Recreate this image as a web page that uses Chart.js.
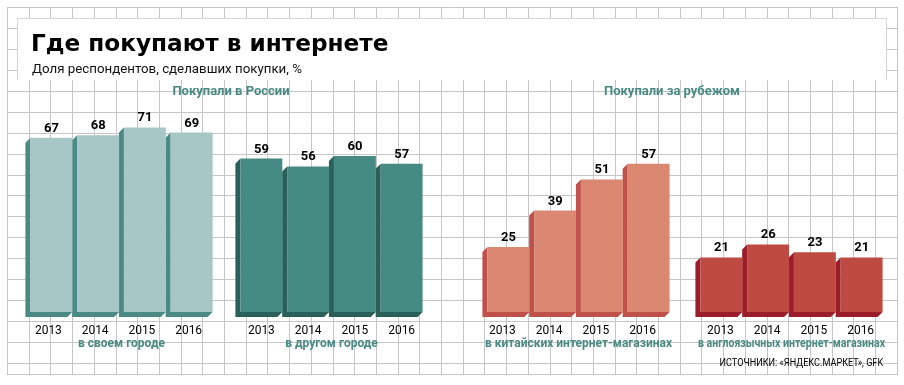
<!DOCTYPE html>
<html>
<head>
<meta charset="utf-8">
<script src="https://cdn.jsdelivr.net/npm/chart.js@4.4.0/dist/chart.umd.min.js"></script>
<style>
  body { margin: 0; width: 904px; height: 385px; overflow: hidden; background: #fff; position: relative; font-family: Roboto, sans-serif; }
  #paper { position: absolute; left: 0; top: 0; }
  canvas.grp { position: absolute; top: 91px; }
  .txt { position: absolute; white-space: nowrap; }
  #title { left: 31px; top: 31px; font: 700 23.2px/23px "DejaVu Sans", sans-serif; color: #000; }
  #subtitle { left: 32px; top: 62px; font: 400 13.3px/13px Roboto, sans-serif; color: #111; }
  .head { top: 84px; width: 300px; text-align: center; font: 700 13px/13px Roboto, sans-serif; color: #4a8a84; }
  #source { right: 21px; top: 357px; font: 400 11px/11px Roboto, sans-serif; color: #000; transform: scaleX(0.83); transform-origin: right center; }
</style>
</head>
<body>
<canvas id="paper" width="904" height="385"></canvas>
<canvas class="grp" id="g1" width="203" height="260" style="left:20px"></canvas>
<canvas class="grp" id="g2" width="203" height="260" style="left:230px"></canvas>
<canvas class="grp" id="g3" width="203" height="260" style="left:477px"></canvas>
<canvas class="grp" id="g4" width="203" height="260" style="left:690px"></canvas>
<div class="txt" id="title">Где покупают в интернете</div>
<div class="txt" id="subtitle">Доля респондентов, сделавших покупки, %</div>
<div class="txt head" style="left:81px">Покупали в России</div>
<div class="txt head" style="left:522px">Покупали за рубежом</div>
<div class="txt" id="source">ИСТОЧНИКИ: «ЯНДЕКС.МАРКЕТ», GFK</div>
<script>
const years = ['2013', '2014', '2015', '2016'];
const ownCity = [67, 68, 71, 69];
const otherCity = [59, 56, 60, 57];
const chineseShops = [25, 39, 51, 57];
const englishShops = [21, 26, 23, 21];

// graph paper behind everything
function drawPaper() {
  const c = document.getElementById('paper').getContext('2d');
  c.strokeStyle = '#c6c6c6';
  c.lineWidth = 1;
  const left = 7, right = 897, top = 7, bottom = 374;
  c.beginPath();
  for (let i = 0; i <= 41; i++) {
    const x = Math.round(left + i * 21.7) + 0.5;
    c.moveTo(x, top); c.lineTo(x, bottom);
  }
  for (let j = 0; j <= 17; j++) {
    const y = Math.round(top + j * 20.94) + 0.5;
    c.moveTo(left, y); c.lineTo(right + 1, y);
  }
  c.moveTo(left, bottom + 0.5); c.lineTo(right + 1, bottom + 0.5);
  c.stroke();
  // white title card
  c.fillStyle = '#fff';
  c.fillRect(17, 18, 870, 62);
  c.strokeStyle = '#d6d6d6';
  c.beginPath();
  c.moveTo(17.5, 80); c.lineTo(17.5, 18.5); c.lineTo(886.5, 18.5); c.lineTo(886.5, 80);
  c.stroke();
}
drawPaper();

// dark extruded side under each bar
const depth = {
  id: 'depth',
  beforeDatasetsDraw(chart, args, opts) {
    const ctx = chart.ctx, d = 5;
    ctx.save();
    ctx.fillStyle = opts.color;
    chart.getDatasetMeta(0).data.forEach(bar => {
      const {x, y, base, width} = bar.getProps(['x', 'y', 'base', 'width'], true);
      const l = x - width / 2, r = x + width / 2;
      ctx.beginPath();
      ctx.moveTo(l, y);
      ctx.lineTo(l - d, y + d);
      ctx.lineTo(l - d, base + d);
      ctx.lineTo(r - d, base + d);
      ctx.lineTo(r, base);
      ctx.lineTo(l, base);
      ctx.closePath();
      ctx.fill();
    });
    ctx.restore();
  },
  afterDatasetsDraw(chart) {
    const ctx = chart.ctx;
    ctx.save();
    ctx.font = 'bold 13px Roboto, sans-serif';
    ctx.fillStyle = '#000';
    ctx.textAlign = 'center';
    const vals = chart.data.datasets[0].data;
    chart.getDatasetMeta(0).data.forEach((bar, i) => {
      ctx.fillText(vals[i], bar.x, bar.y - 6);
    });
    ctx.restore();
  }
};

function makeGroup(id, values, front, side, caption, shift) {
  new Chart(document.getElementById(id), {
    type: 'bar',
    data: {
      labels: years,
      datasets: [{ data: values, backgroundColor: front, categoryPercentage: 1, barPercentage: 0.897 }]
    },
    options: {
      responsive: false,
      animation: false,
      layout: { padding: { left: 8, right: 8, top: 0, bottom: 0 } },
      plugins: { legend: { display: false }, tooltip: { enabled: false }, depth: { color: side } },
      scales: {
        x: {
          grid: { display: false, drawTicks: false },
          border: { display: false },
          ticks: { padding: 12, color: '#000', labelOffset: shift,
                   font: { family: 'Roboto, sans-serif', size: 12 } },
          title: { display: true, text: caption, color: '#4a8a84', padding: 0,
                   font: { family: 'Roboto, sans-serif', weight: 'bold', size: 12 } },
          afterFit(scale) { scale.height = 39; }
        },
        y: { display: false, min: 0, max: 85 }
      }
    },
    plugins: [depth]
  });
}

makeGroup('g1', ownCity, '#a7c7c6', '#4a8a84', 'в своем городе', -3);
makeGroup('g2', otherCity, '#468a84', '#2a5f5a', 'в другом городе', 0);
makeGroup('g3', chineseShops, '#da8872', '#c0504a', 'в китайских интернет-магазинах', -6);
makeGroup('g4', englishShops, '#bf4a42', '#9c1d2a', 'в англоязычных интернет-магазинах', -1);
</script>
</body>
</html>
